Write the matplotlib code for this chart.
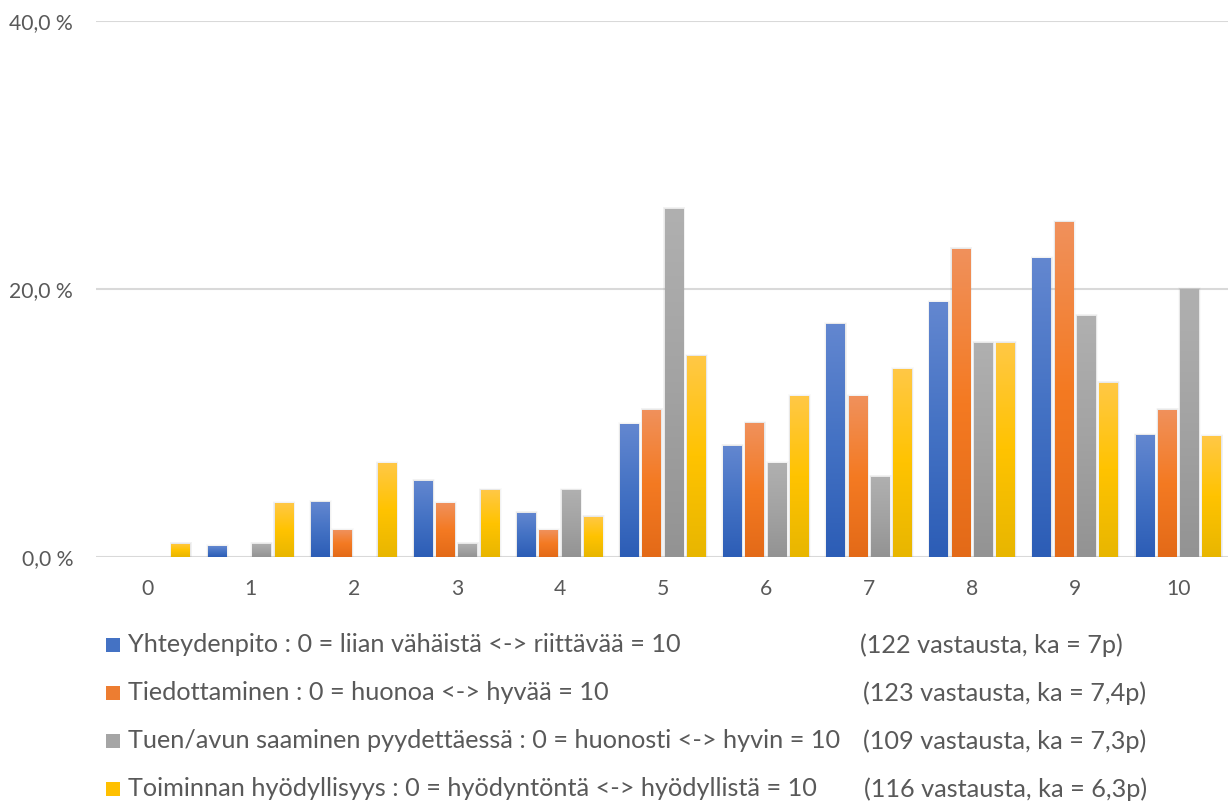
import numpy as np
import matplotlib
matplotlib.use("Agg")
import matplotlib.pyplot as plt
from matplotlib.colors import LinearSegmentedColormap
from matplotlib.patches import Rectangle

plt.rcParams['font.family'] = ['Lato', 'DejaVu Sans']

categories = ['0', '1', '2', '3', '4', '5', '6', '7', '8', '9', '10']
yhteydenpito = [0, 0.8, 4.1, 5.7, 3.3, 9.9, 8.3, 17.4, 19.0, 22.3, 9.1]
tiedottaminen = [0, 0, 2, 4, 2, 11, 10, 12, 23, 25, 11]
tuki = [0, 1, 0, 1, 5, 26, 7, 6, 16, 18, 20]
hyodyllisyys = [1, 4, 7, 5, 3, 15, 12, 14, 16, 13, 9]

series_names = [
    'Yhteydenpito : 0 = liian vähäistä <-> riittävää = 10',
    'Tiedottaminen : 0 = huonoa <-> hyvää = 10',
    'Tuen/avun saaminen pyydettäessä : 0 = huonosti <-> hyvin = 10',
    'Toiminnan hyödyllisyys : 0 = hyödyntöntä <-> hyödyllistä = 10',
]
series_notes = [
    '(122 vastausta, ka = 7p)',
    '(123 vastausta, ka = 7,4p)',
    '(109 vastausta, ka = 7,3p)',
    '(116 vastausta, ka = 6,3p)',
]
yticks = [0, 20, 40]
ytick_labels = ['0,0 %', '20,0 %', '40,0 %']

series = [yhteydenpito, tiedottaminen, tuki, hyodyllisyys]
gradients = [
    ['#6387D0', '#4472C4', '#2C5DB6'],
    ['#F0915C', '#F47A22', '#E36A18'],
    ['#B0B0B0', '#A3A3A3', '#939393'],
    ['#FFC846', '#FFC300', '#E8B600'],
]
solid = ['#4472C4', '#ED7D31', '#A5A5A5', '#FFC000']

W, H = 1228, 809
fig = plt.figure(figsize=(W / 100, H / 100), dpi=100)
ax = fig.add_axes([96 / W, 1 - 557 / H, (1230 - 96) / W, (557 - 21) / H])

x = np.arange(len(categories))
stride = 0.216
width = 0.184
offsets = (np.arange(4) - 1.5) * stride

ax.set_xlim(-0.5, 10.5)
ax.set_ylim(0, 40)
for s in ax.spines.values():
    s.set_visible(False)
ax.set_yticks(yticks)
ax.set_yticklabels(ytick_labels)
ax.yaxis.grid(True, color='#D9D9D9', linewidth=1.5)
ax.set_axisbelow(True)
ax.axhline(0, color='#D9D9D9', linewidth=2, zorder=1)
ax.tick_params(axis='both', length=0, labelsize=15.2, colors='#595959')
ax.tick_params(axis='y', pad=16.5)
ax.tick_params(axis='x', pad=16)
ax.set_xticks(x)
ax.set_xticklabels(categories)

for i, vals in enumerate(series):
    cmap = LinearSegmentedColormap.from_list('g%d' % i, gradients[i][::-1])
    bars = ax.bar(x + offsets[i], vals, width, color='none', edgecolor='none', zorder=3)
    grad = np.linspace(0, 1, 256).reshape(-1, 1)
    for b, v in zip(bars, vals):
        if v <= 0:
            continue
        x0, y0 = b.get_x(), b.get_y()
        bw, bh = b.get_width(), b.get_height()
        # soft shadow
        for k, a in enumerate([0.09, 0.06, 0.035]):
            dx = 0.006 * (k + 1)
            dy = 0.05 * (k + 1)
            sh = Rectangle((x0 - dx, y0), bw + 2 * dx, bh + dy,
                           facecolor='#7F7F7F', edgecolor='none', alpha=a, zorder=2)
            ax.add_patch(sh)
        im = ax.imshow(grad, extent=(x0, x0 + bw, y0, y0 + bh), origin='lower',
                       cmap=cmap, aspect='auto', zorder=4, interpolation='bilinear')
        im.set_clip_path(b)

ax.set_xlim(-0.5, 10.5)
ax.set_ylim(0, 40)

# legend
rows_y = [645, 693, 741, 789]
note_x = [860, 863, 863, 864]
for i in range(4):
    yc = rows_y[i]
    fig.patches.append(Rectangle((106 / W, 1 - (yc + 7) / H), 14 / W, 14 / H,
                                 transform=fig.transFigure, facecolor=solid[i],
                                 edgecolor='none'))
    fig.text(128 / W, 1 - yc / H, series_names[i], fontsize=18.2, color='#595959',
             va='center', ha='left')
    fig.text(note_x[i] / W, 1 - yc / H, series_notes[i], fontsize=18.2, color='#595959',
             va='center', ha='left')

fig.savefig('out.png', dpi=100)
